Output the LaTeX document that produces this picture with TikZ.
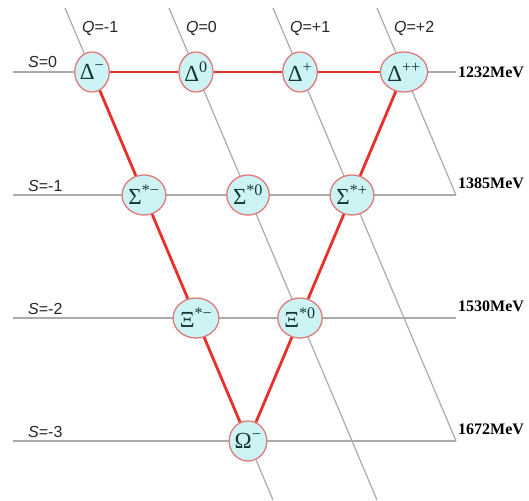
\documentclass[tikz,border=0pt]{standalone}
\usepackage{fontspec}
\setmainfont{Liberation Serif}
\setsansfont{Liberation Sans}
\usepackage{tikz}
\usetikzlibrary{shapes.geometric, positioning}
\definecolor{nodefill}{HTML}{CDF4F4}
\definecolor{nodeline}{HTML}{E07A7A}
\definecolor{decline}{HTML}{E8302A}
\definecolor{gridgray}{HTML}{ABABAB}
\definecolor{glyph}{HTML}{1A3636}
\tikzstyle{baryon} = [ellipse, minimum width=34pt, minimum height=40pt, inner sep=0pt, draw=nodeline, line width=1.3pt, fill=nodefill, text=glyph, font=\fontsize{23}{23}\selectfont]
\tikzstyle{qsline} = [draw=gridgray, line width=1.2pt]
\tikzstyle{decuplet} = [draw=decline, line width=2.8pt]
\tikzstyle{axislabel} = [anchor=base west, inner sep=0pt, text=black!85, font=\sffamily\fontsize{16}{16}\selectfont]
\tikzstyle{mass} = [anchor=base west, inner sep=0pt, font=\bfseries\fontsize{16}{16}\selectfont]

\begin{document}
\begin{tikzpicture}[x=1pt, y=-1pt, node distance=104pt]
\useasboundingbox (0,0) rectangle (529,500);

%---------------------------------GRID
\coordinate (s0l) at (13,72);
\coordinate (s0r) at (456,72);
\coordinate (s1l) at (13,195);
\coordinate (s1r) at (456,195);
\coordinate (s2l) at (13,318);
\coordinate (s2r) at (456,318);
\coordinate (s3l) at (13,441);
\coordinate (s3r) at (456,441);
\coordinate (qm1top) at (65,8);
\coordinate (qm1bot) at (273,500);
\coordinate (q0top) at (169,8);
\coordinate (q0bot) at (377,500);
\coordinate (qp1top) at (273,8);
\coordinate (qp2top) at (377,8);

\draw [qsline] (s0l) -- (s0r);
\draw [qsline] (s1l) -- (s1r);
\draw [qsline] (s2l) -- (s2r);
\draw [qsline] (s3l) -- (s3r);
\draw [qsline] (qm1top) -- (qm1bot);
\draw [qsline] (q0top) -- (q0bot);
\draw [qsline] (qp1top) -- (s3r);
\draw [qsline] (qp2top) -- (s1r);

\node (qm1) [axislabel] at (82,33) {{\itshape Q}=-1};
\node (q0) [axislabel] at (186,33) {{\itshape Q}=0};
\node (qp1) [axislabel] at (290,33) {{\itshape Q}=+1};
\node (qp2) [axislabel] at (394,33) {{\itshape Q}=+2};
\node (sz) [axislabel] at (28,68) {{\itshape S}=0};
\node (sm1) [axislabel] at (28,191) {{\itshape S}=-1};
\node (sm2) [axislabel] at (28,314) {{\itshape S}=-2};
\node (sm3) [axislabel] at (28,437) {{\itshape S}=-3};
\node (e0) [mass] at (458,78) {1232MeV};
\node (e1) [mass] at (458,188) {1385MeV};
\node (e2) [mass] at (458,311) {1530MeV};
\node (e3) [mass] at (458,434) {1672MeV};

%---------------------------------BARYONS
\node (dm) [baryon] at (92,72) {Δ\textsuperscript{−}};
\node (d0) [baryon, right of=dm] {Δ\textsuperscript{0}};
\node (dp) [baryon, right of=d0] {Δ\textsuperscript{+}};
\node (dpp) [baryon, right of=dp] {Δ\textsuperscript{++}};
\node (sgm) [baryon, below of=dm, xshift=52pt, yshift=-19pt] {Σ\textsuperscript{*−}};
\node (sg0) [baryon, right of=sgm] {Σ\textsuperscript{*0}};
\node (sgp) [baryon, right of=sg0] {Σ\textsuperscript{*+}};
\node (xim) [baryon, below of=sgm, xshift=52pt, yshift=-19pt] {Ξ\textsuperscript{*−}};
\node (xi0) [baryon, right of=xim] {Ξ\textsuperscript{*0}};
\node (om) [baryon, below of=xim, xshift=52pt, yshift=-19pt] {Ω\textsuperscript{−}};

%---------------------------------EDGES
\draw [decuplet] (dm) -- (d0);
\draw [decuplet] (d0) -- (dp);
\draw [decuplet] (dp) -- (dpp);
\draw [decuplet] (dm) -- (sgm);
\draw [decuplet] (sgm) -- (xim);
\draw [decuplet] (xim) -- (om);
\draw [decuplet] (dpp) -- (sgp);
\draw [decuplet] (sgp) -- (xi0);
\draw [decuplet] (xi0) -- (om);

\end{tikzpicture}
\end{document}
